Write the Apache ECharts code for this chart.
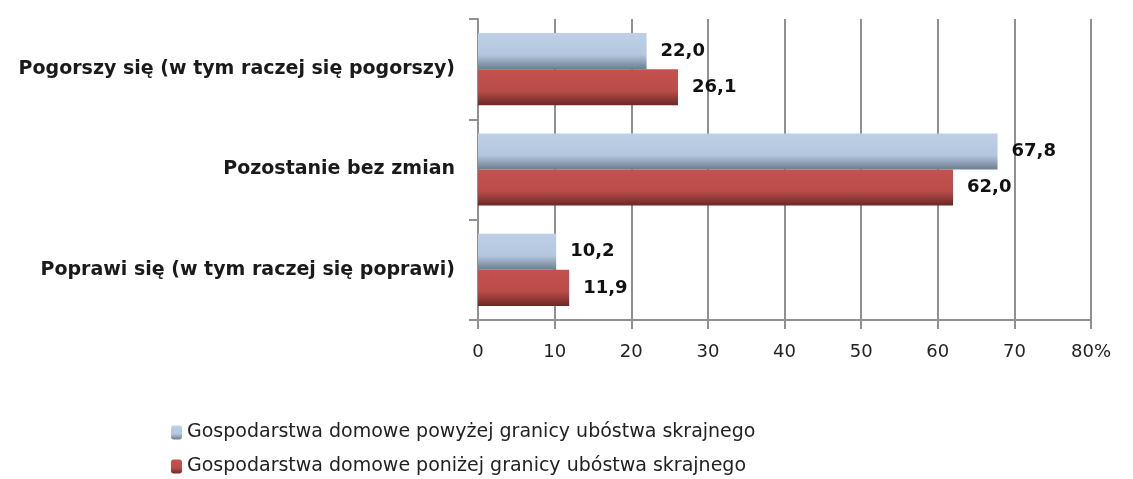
<!DOCTYPE html>
<html>
<head>
<meta charset="utf-8">
<script src="https://cdn.jsdelivr.net/npm/echarts@6/dist/echarts.min.js"></script>
<style>
  html, body { margin: 0; padding: 0; background: #fff; }
  #chart { width: 1133px; height: 479px; }
</style>
</head>
<body>
<div id="chart"></div>
<script>
var dom = document.getElementById('chart');
var myChart = echarts.init(dom, null, { renderer: 'canvas' });

// categories from bottom to top
let categories = ['Poprawi się (w tym raczej się poprawi)', 'Pozostanie bez zmian', 'Pogorszy się (w tym raczej się pogorszy)'];
let seriesNames = ['Gospodarstwa domowe powyżej granicy ubóstwa skrajnego', 'Gospodarstwa domowe poniżej granicy ubóstwa skrajnego'];
let above = [10.2, 67.8, 22.0];
let below = [11.9, 62.0, 26.1];
let xTicks = [0, 10, 20, 30, 40, 50, 60, 70, 80];

var valueLabel = {
    show: true,
    position: 'right',
    distance: 14,
    color: '#111',
    fontSize: 18,
    fontWeight: 'bold',
    fontFamily: 'DejaVu Sans',
    formatter: function (p) { return p.value.toFixed(1).replace('.', ','); }
};

var legendText = { fontSize: 19, color: '#222', fontFamily: 'DejaVu Sans' };

var option = {
    animation: false,
    grid: { left: 478, right: 42, top: 19, bottom: 159 },
    legend: [
        {
            data: [seriesNames[0]],
            left: 166,
            top: 418,
            itemWidth: 11,
            itemHeight: 14,
            itemGap: 9,
            textStyle: legendText
        },
        {
            data: [seriesNames[1]],
            left: 166,
            top: 452,
            itemWidth: 11,
            itemHeight: 14,
            itemGap: 9,
            textStyle: legendText
        }
    ],
    xAxis: {
        type: 'value',
        min: 0,
        max: 80,
        interval: 10,
        axisLine: { show: true, lineStyle: { color: '#909090', width: 2 } },
        axisTick: { show: true, length: 9, lineStyle: { color: '#909090', width: 2 } },
        splitLine: { show: true, lineStyle: { color: '#909090', width: 2 } },
        axisLabel: {
            margin: 23,
            fontSize: 18,
            color: '#222',
            fontFamily: 'DejaVu Sans',
            formatter: function (v) { return v === xTicks[xTicks.length - 1] ? v + '%' : String(v); }
        }
    },
    yAxis: {
        type: 'category',
        data: categories,
        axisLine: { show: true, lineStyle: { color: '#909090', width: 2 } },
        axisTick: { show: true, length: 9, lineStyle: { color: '#909090', width: 2 } },
        axisLabel: {
            margin: 23,
            fontSize: 19,
            fontWeight: 'bold',
            color: '#1a1a1a',
            fontFamily: 'DejaVu Sans'
        }
    },
    series: [
        {
            name: seriesNames[0],
            type: 'bar',
            data: above,
            barGap: '0%',
            barCategoryGap: '28%',
            label: valueLabel,
            itemStyle: {
                color: new echarts.graphic.LinearGradient(0, 0, 0, 1, [
                    { offset: 0, color: '#bed0e7' },
                    { offset: 0.6, color: '#b3c7df' },
                    { offset: 1, color: '#6d7d8f' }
                ])
            }
        },
        {
            name: seriesNames[1],
            type: 'bar',
            data: below,
            barGap: '0%',
            barCategoryGap: '28%',
            label: valueLabel,
            itemStyle: {
                color: new echarts.graphic.LinearGradient(0, 0, 0, 1, [
                    { offset: 0, color: '#c4524f' },
                    { offset: 0.6, color: '#b94c49' },
                    { offset: 1, color: '#6b2826' }
                ])
            }
        }
    ]
};
myChart.setOption(option);
window.addEventListener('resize', myChart.resize);
</script>
</body>
</html>
